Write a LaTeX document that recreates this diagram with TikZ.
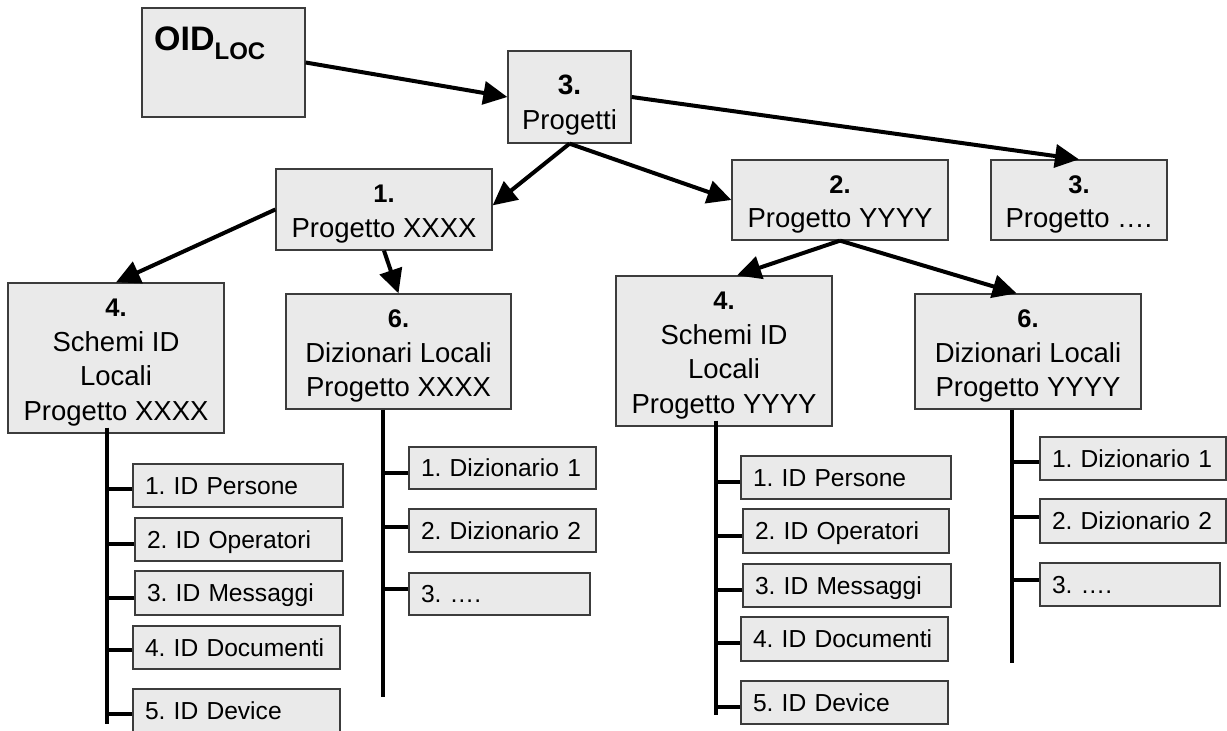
\documentclass[tikz,border=0pt]{standalone}
\usepackage{fontspec}
\setmainfont{Liberation Sans}
\usetikzlibrary{arrows.meta,calc}
\definecolor{boxfill}{HTML}{EAEAEA}
\definecolor{boxline}{HTML}{3C3C3C}
\frenchspacing
\hyphenpenalty=10000
% bold item number; the strut pushes the centred block down a little
\newcommand{\numtxt}[1]{{\rule{0pt}{27pt}\fontsize{25.5}{34}\selectfont\bfseries #1}}
\begin{document}
\begin{tikzpicture}[x=1pt,y=-1pt,
  box/.style={draw=boxline, line width=1.3pt, fill=boxfill, inner sep=0pt,
    align=center, font=\fontsize{27.5}{34.5}\selectfont},
  item/.style={draw=boxline, line width=1.3pt, fill=boxfill, inner xsep=12pt,
    inner ysep=0pt, align=left, font=\fontsize{24.6}{30}\selectfont,
    text height=17.6pt, text depth=0pt},
  conn/.style={line width=4pt, black},
  arr/.style={conn, -{Triangle[length=24pt,width=23pt]}},
]
\useasboundingbox (0,0) rectangle (1227,731);

% --- top level ---
\node[box, minimum width=163pt, minimum height=109pt] (oid) at (223.5,62.5) {};
\node[anchor=base west, inner sep=0pt, font=\fontsize{34}{40}\selectfont\bfseries]
  (oidlabel) at (154,50) {OID{\fontsize{24}{28}\selectfont\raisebox{-9pt}{LOC}}};
\node[box, minimum width=123pt, minimum height=92pt] (prog) at (569.5,97)
  {{\rule{0pt}{36pt}\fontsize{28}{34}\selectfont\bfseries 3.}\\Progetti};

% --- projects ---
\node[box, minimum width=216pt, minimum height=81pt] (p1) at (384,209.5)
  {\numtxt{1.}\\Progetto XXXX};
\node[box, minimum width=216pt, minimum height=80pt] (p2) at (840,200)
  {\numtxt{2.}\\Progetto YYYY};
\node[box, minimum width=176pt, minimum height=80pt] (p3) at (1079,200)
  {\numtxt{3.}\\Progetto ….};

% --- per-project folders ---
\node[box, minimum width=216pt, minimum height=150pt] (sx) at (116,358)
  {\numtxt{4.}\\Schemi ID\\Locali\\Progetto XXXX};
\node[box, minimum width=225pt, minimum height=115pt] (dx) at (398.5,351.5)
  {\numtxt{6.}\\Dizionari Locali\\Progetto XXXX};
\node[box, minimum width=216pt, minimum height=150pt] (sy) at (724,351)
  {\numtxt{4.}\\Schemi ID\\Locali\\Progetto YYYY};
\node[box, minimum width=226pt, minimum height=115pt] (dy) at (1028,351.5)
  {\numtxt{6.}\\Dizionari Locali\\Progetto YYYY};

% --- arrows ---
\draw[arr] (oid.east) -- (prog.west);
\draw[arr] (prog.east) -- (p3.north);
\draw[arr] (prog.south) -- ($(p1.north east)!0.45!(p1.south east)$);
\draw[arr] (prog.south) -- (p2.west);
\draw[arr] (p1.west) -- (sx.north);
\draw[arr] (p1.south) -- (dx.north);
\draw[arr] (p2.south) -- ($(sy.north west)!0.56!(sy.north east)$);
\draw[arr] (p2.south) -- ($(dy.north west)!0.45!(dy.north east)$);

% --- ID schemes, project XXXX ---
\node[item, minimum width=210pt, text width=186pt, minimum height=43pt] (sx1) at (238,485.5) {1. ID Persone};
\node[item, minimum width=207pt, text width=183pt, minimum height=43pt] (sx2) at (238.5,539.5) {2. ID Operatori};
\node[item, minimum width=208pt, text width=184pt, minimum height=44pt] (sx3) at (239,593) {3. ID Messaggi};
\node[item, minimum width=207pt, text width=183pt, minimum height=43pt] (sx4) at (236.5,647.5) {4. ID Documenti};
\node[item, minimum width=207pt, text width=183pt, minimum height=44pt] (sx5) at (236.5,711) {5. ID Device};
\coordinate (sxend) at (107,724);
\draw[conn] ($(sx.south -| sxend)+(0,-6)$) -- (sxend);
\draw[conn] ($(sx1.west)+(0,3.5)$) -- ($(sx1.west -| sxend)+(0,3.5)$);
\draw[conn] ($(sx2.west)+(0,4.5)$) -- ($(sx2.west -| sxend)+(0,4.5)$);
\draw[conn] ($(sx3.west)+(0,5)$) -- ($(sx3.west -| sxend)+(0,5)$);
\draw[conn] ($(sx4.west)+(0,2.5)$) -- ($(sx4.west -| sxend)+(0,2.5)$);
\draw[conn] ($(sx5.west)+(0,3)$) -- ($(sx5.west -| sxend)+(0,3)$);

% --- dictionaries, project XXXX ---
\node[item, minimum width=187pt, text width=163pt, minimum height=42pt] (dx1) at (502.5,468) {1. Dizionario 1};
\node[item, minimum width=187pt, text width=163pt, minimum height=43pt] (dx2) at (502.5,530.5) {2. Dizionario 2};
\node[item, minimum width=181pt, text width=157pt, minimum height=42pt] (dx3) at (499.5,594) {3. ….};
\coordinate (dxend) at (383,697);
\draw[conn] (dx.south -| dxend) -- (dxend);
\draw[conn] ($(dx1.west)+(0,5)$) -- ($(dx1.west -| dxend)+(0,5)$);
\draw[conn] ($(dx2.west)+(0,-3.5)$) -- ($(dx2.west -| dxend)+(0,-3.5)$);
\draw[conn] ($(dx3.west)+(0,-5)$) -- ($(dx3.west -| dxend)+(0,-5)$);

% --- ID schemes, project YYYY ---
\node[item, minimum width=210pt, text width=186pt, minimum height=43pt] (sy1) at (846,477.5) {1. ID Persone};
\node[item, minimum width=206pt, text width=182pt, minimum height=44pt] (sy2) at (846,531) {2. ID Operatori};
\node[item, minimum width=208pt, text width=184pt, minimum height=43pt] (sy3) at (847,585.5) {3. ID Messaggi};
\node[item, minimum width=207pt, text width=183pt, minimum height=44pt] (sy4) at (844.5,639) {4. ID Documenti};
\node[item, minimum width=207pt, text width=183pt, minimum height=43pt] (sy5) at (844.5,702.5) {5. ID Device};
\coordinate (syend) at (715.5,715);
\draw[conn] ($(sy.south -| syend)+(0,-6)$) -- (syend);
\draw[conn] ($(sy1.west)+(0,4.5)$) -- ($(sy1.west -| syend)+(0,4.5)$);
\draw[conn] ($(sy2.west)+(0,5)$) -- ($(sy2.west -| syend)+(0,5)$);
\draw[conn] ($(sy3.west)+(0,4.5)$) -- ($(sy3.west -| syend)+(0,4.5)$);
\draw[conn] ($(sy4.west)+(0,4)$) -- ($(sy4.west -| syend)+(0,4)$);
\draw[conn] ($(sy5.west)+(0,4.5)$) -- ($(sy5.west -| syend)+(0,4.5)$);

% --- dictionaries, project YYYY ---
\node[item, minimum width=186pt, text width=162pt, minimum height=43pt] (dy1) at (1133,458.5) {1. Dizionario 1};
\node[item, minimum width=186pt, text width=162pt, minimum height=44pt] (dy2) at (1133,521) {2. Dizionario 2};
\node[item, minimum width=180pt, text width=156pt, minimum height=43pt] (dy3) at (1130,584.5) {3. ….};
\coordinate (dyend) at (1012,663);
\draw[conn] (dy.south -| dyend) -- (dyend);
\draw[conn] ($(dy1.west)+(0,3.5)$) -- ($(dy1.west -| dyend)+(0,3.5)$);
\draw[conn] ($(dy2.west)+(0,-4)$) -- ($(dy2.west -| dyend)+(0,-4)$);
\draw[conn] ($(dy3.west)+(0,-4.5)$) -- ($(dy3.west -| dyend)+(0,-4.5)$);
\end{tikzpicture}
\end{document}
